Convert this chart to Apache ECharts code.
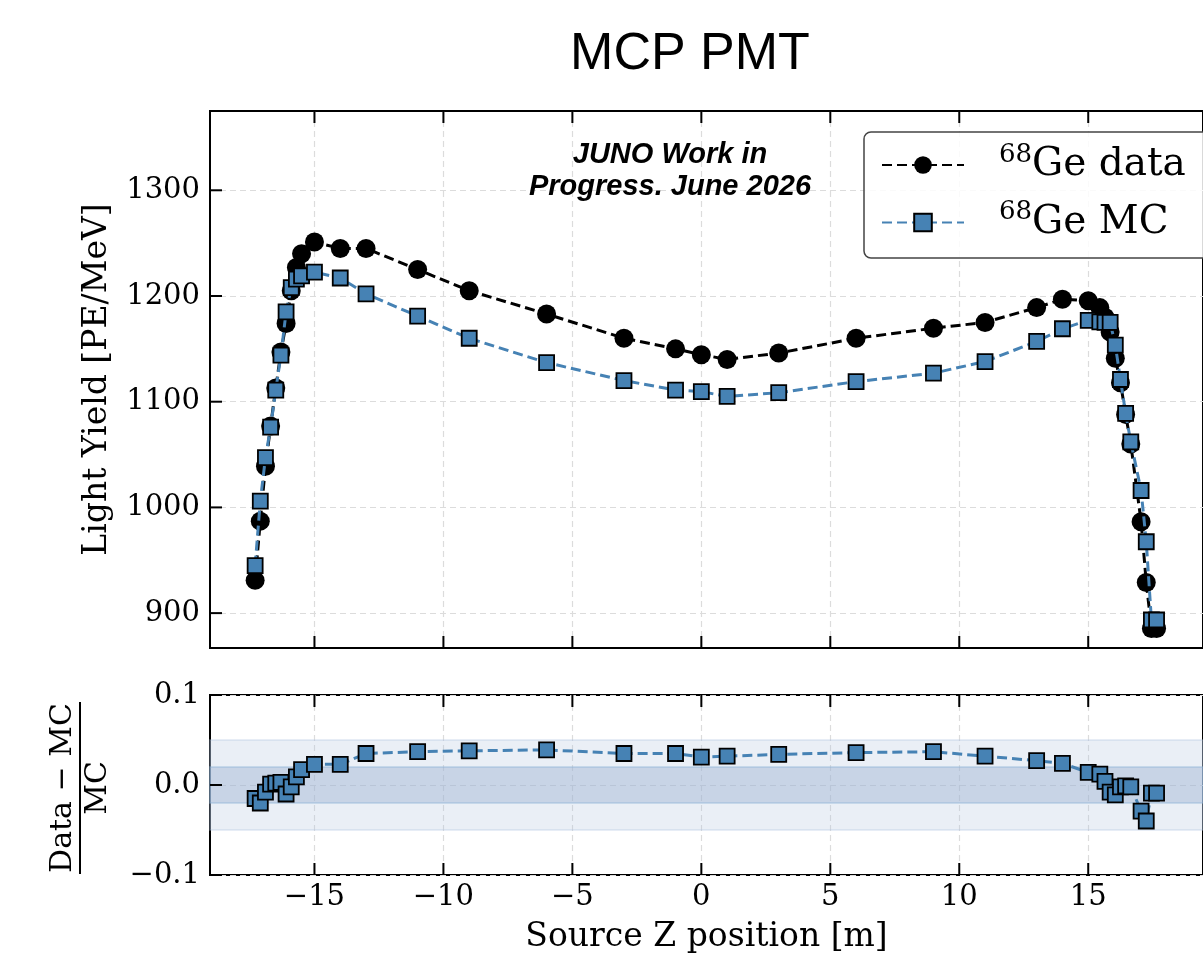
<!DOCTYPE html>
<html>
<head>
<meta charset="utf-8">
<title>MCP PMT</title>
<script src="https://cdn.jsdelivr.net/npm/echarts@6/dist/echarts.min.js"></script>
<style>
  html, body { margin: 0; padding: 0; background: #fff; }
  #chart { width: 1203px; height: 972px; }
</style>
</head>
<body>
<div id="chart"></div>
<script>
// source Z positions [m], shared by all series
var zPos = [-17.3, -17.1, -16.9, -16.7, -16.5, -16.3, -16.1, -15.9, -15.7, -15.5,
  -15, -14, -13, -11, -9, -6, -3, -1, 0, 1, 3, 6, 9, 11, 13, 14, 15,
  15.45, 15.65, 15.85, 16.05, 16.25, 16.45, 16.65, 17.05, 17.25, 17.45, 17.65];

// light yield [PE/MeV]
var dataLY = [931, 987, 1039, 1077, 1113, 1147, 1174, 1205, 1227, 1240,
  1251, 1245, 1245, 1225, 1205, 1183, 1160, 1150, 1144.5, 1140, 1146, 1160, 1169.5, 1175, 1189, 1197, 1195.5,
  1189, 1180, 1166, 1141, 1118, 1088, 1060, 986.5, 929, 885.5, 885.5];
var mcLY = [945, 1006, 1047, 1076, 1111, 1144, 1185, 1208, 1216, 1219,
  1222.5, 1217, 1202, 1181, 1160, 1137, 1120, 1111, 1109.5, 1105, 1108.5, 1119, 1127, 1138, 1157, 1169, 1177,
  1175.5, 1175, 1175, 1153.5, 1121, 1089, 1062, 1016, 967.5, 893.5, 893.5];

// (Data - MC) / MC
var ratio = [-0.015, -0.020, -0.008, 0.001, 0.002, 0.003, -0.010, -0.002, 0.009, 0.017,
  0.023, 0.023, 0.035, 0.037, 0.038, 0.039, 0.035, 0.035, 0.031, 0.032, 0.034, 0.036, 0.037, 0.032, 0.027, 0.024, 0.014,
  0.012, 0.004, -0.008, -0.011, -0.002, -0.001, -0.002, -0.029, -0.040, -0.009, -0.009];

var xTicks = [-15, -10, -5, 0, 5, 10, 15];
var lyTicks = [900, 1000, 1100, 1200, 1300];
var ratioTicks = [-0.1, 0, 0.1];
var xRange = [-19.05, 19.45];
var lyRange = [867, 1375];
var ratioRange = [-0.1, 0.1];
var bandOuter = 0.05;
var bandInner = 0.02;
var isotope = '68';

var serif = 'DejaVu Serif';
var sans = 'Liberation Sans';
var steel = '#4682b4';
var tickLen = 12;

function minus(v) {
  return String(v).replace('-', '\u2212');
}

function pairs(ys) {
  return zPos.map(function (z, i) { return [z, ys[i]]; });
}

function gridLine() {
  return { show: true, lineStyle: { color: '#dcdcdc', type: [6, 4], width: 1.2 } };
}

function xAxisOf(grid, labels) {
  return {
    type: 'value', gridIndex: grid, position: 'bottom',
    min: xRange[0], max: xRange[1],
    axisLine: { show: false, onZero: false },
    axisTick: { show: false, customValues: xTicks },
    axisLabel: {
      show: labels, customValues: xTicks, margin: 8,
      fontFamily: serif, fontSize: 29, color: '#000', formatter: minus
    },
    splitLine: gridLine()
  };
}

var chart = echarts.init(document.getElementById('chart'));

var bottomX = Object.assign(xAxisOf(1, true), {
  name: 'Source Z position [m]', nameLocation: 'middle', nameGap: 46,
  nameTextStyle: { fontFamily: serif, fontSize: 33, color: '#000' }
});

var texts = [
  {
    type: 'text', x: 690, y: 55,
    style: { text: 'MCP PMT', font: '52px "' + sans + '"', fill: '#000', textAlign: 'center', textVerticalAlign: 'middle' }
  },
  {
    type: 'text', x: 670, y: 155, z: 10,
    style: { text: 'JUNO Work in', font: 'italic bold 29px "' + sans + '"', fill: '#000', textAlign: 'center', textVerticalAlign: 'middle' }
  },
  {
    type: 'text', x: 670, y: 187, z: 10,
    style: { text: 'Progress. June 2026', font: 'italic bold 29px "' + sans + '"', fill: '#000', textAlign: 'center', textVerticalAlign: 'middle' }
  },
  {
    type: 'group', x: 80, y: 788, rotation: Math.PI / 2,
    children: [
      { type: 'text', x: 0, y: -17, style: { text: 'Data \u2212 MC', font: '30px "' + serif + '"', fill: '#000', textAlign: 'center', textVerticalAlign: 'middle' } },
      { type: 'line', shape: { x1: -86, y1: 0, x2: 86, y2: 0 }, style: { stroke: '#000', lineWidth: 2 } },
      { type: 'text', x: 0, y: 18, style: { text: 'MC', font: '30px "' + serif + '"', fill: '#000', textAlign: 'center', textVerticalAlign: 'middle' } }
    ]
  }
];

var option = {
  animation: false,
  backgroundColor: '#fff',
  grid: [
    { left: 210, top: 111, width: 1026, height: 537, show: true, borderColor: '#000', borderWidth: 2 },
    { left: 210, top: 695, width: 1026, height: 180, show: true, borderColor: '#000', borderWidth: 2 }
  ],
  xAxis: [xAxisOf(0, false), bottomX],
  yAxis: [
    {
      type: 'value', gridIndex: 0, position: 'left', min: lyRange[0], max: lyRange[1],
      axisLine: { show: false, onZero: false },
      axisTick: { show: false, customValues: lyTicks },
      axisLabel: {
        customValues: lyTicks, margin: 10, fontFamily: serif, fontSize: 29, color: '#000',
        formatter: function (v) { return String(v); }
      },
      splitLine: gridLine(),
      name: 'Light Yield [PE/MeV]', nameLocation: 'middle', nameGap: 96,
      nameTextStyle: { fontFamily: serif, fontSize: 33, color: '#000' }
    },
    {
      type: 'value', gridIndex: 1, position: 'left', min: ratioRange[0], max: ratioRange[1], interval: 0.1,
      axisLine: { show: false, onZero: false },
      axisTick: { show: false },
      axisLabel: {
        margin: 10, fontFamily: serif, fontSize: 29, color: '#000',
        formatter: function (v) { return minus(v.toFixed(1)); }
      },
      splitLine: gridLine()
    }
  ],
  legend: {
    left: 864, top: 132,
    orient: 'vertical',
    padding: [10, 40, 16, 17],
    itemGap: 15,
    itemWidth: 82, itemHeight: 22,
    borderColor: '#444', borderWidth: 1.5, borderRadius: 7,
    backgroundColor: 'rgba(255,255,255,0.85)',
    data: ['Ge data', 'Ge MC'],
    formatter: function (name) { return '{sup|' + isotope + '}{txt|' + name + '}'; },
    textStyle: {
      rich: {
        sup: { fontFamily: serif, fontSize: 26, lineHeight: 26, verticalAlign: 'top', padding: [0, 0, 0, 30], color: '#000' },
        txt: { fontFamily: serif, fontSize: 39, lineHeight: 46, color: '#000' }
      }
    }
  },
  graphic: texts,
  series: [
    {
      name: 'Ge data', type: 'line', xAxisIndex: 0, yAxisIndex: 0, z: 2,
      data: pairs(dataLY),
      symbol: 'circle', symbolSize: 19,
      itemStyle: { color: '#000' },
      lineStyle: { color: '#000', width: 3, type: [10, 5] }
    },
    {
      name: 'Ge MC', type: 'line', xAxisIndex: 0, yAxisIndex: 0, z: 3,
      data: pairs(mcLY),
      symbol: 'rect', symbolSize: 15,
      itemStyle: { color: steel, borderColor: '#000', borderWidth: 1.8 },
      lineStyle: { color: steel, width: 3, type: [10, 5] }
    },
    {
      name: 'ratio', type: 'line', xAxisIndex: 1, yAxisIndex: 1, z: 3,
      data: pairs(ratio),
      symbol: 'rect', symbolSize: 15,
      itemStyle: { color: steel, borderColor: '#000', borderWidth: 1.8 },
      lineStyle: { color: steel, width: 3, type: [10, 5] },
      markArea: {
        silent: true,
        data: [
          [{ yAxis: -bandOuter, itemStyle: { color: 'rgba(176,196,222,0.27)', borderColor: 'rgba(176,196,222,0.4)', borderWidth: 1.5 } }, { yAxis: bandOuter }],
          [{ yAxis: -bandInner, itemStyle: { color: 'rgba(150,172,208,0.4)', borderColor: 'rgba(140,180,215,0.5)', borderWidth: 1.5 } }, { yAxis: bandInner }]
        ]
      }
    }
  ]
};

chart.setOption(option);

// inward ticks on left, top and bottom of both panels, placed with the axes' own scales
function tickLine(x1, y1, x2, y2) {
  return {
    type: 'line', z: 20, silent: true,
    shape: { x1: x1, y1: y1, x2: x2, y2: y2 },
    style: { stroke: '#000', lineWidth: 2 }
  };
}

function panelTicks(xi, yi, yRange, yTicks) {
  var left = chart.convertToPixel({ xAxisIndex: xi }, xRange[0]);
  var top = chart.convertToPixel({ yAxisIndex: yi }, yRange[1]);
  var bottom = chart.convertToPixel({ yAxisIndex: yi }, yRange[0]);
  var els = [];
  xTicks.forEach(function (v) {
    var px = chart.convertToPixel({ xAxisIndex: xi }, v);
    els.push(tickLine(px, top, px, top + tickLen));
    els.push(tickLine(px, bottom, px, bottom - tickLen));
  });
  yTicks.forEach(function (v) {
    var py = chart.convertToPixel({ yAxisIndex: yi }, v);
    els.push(tickLine(left, py, left + tickLen, py));
  });
  return els;
}

chart.setOption({
  graphic: texts.concat(panelTicks(0, 0, lyRange, lyTicks), panelTicks(1, 1, ratioRange, ratioTicks))
});
</script>
</body>
</html>
